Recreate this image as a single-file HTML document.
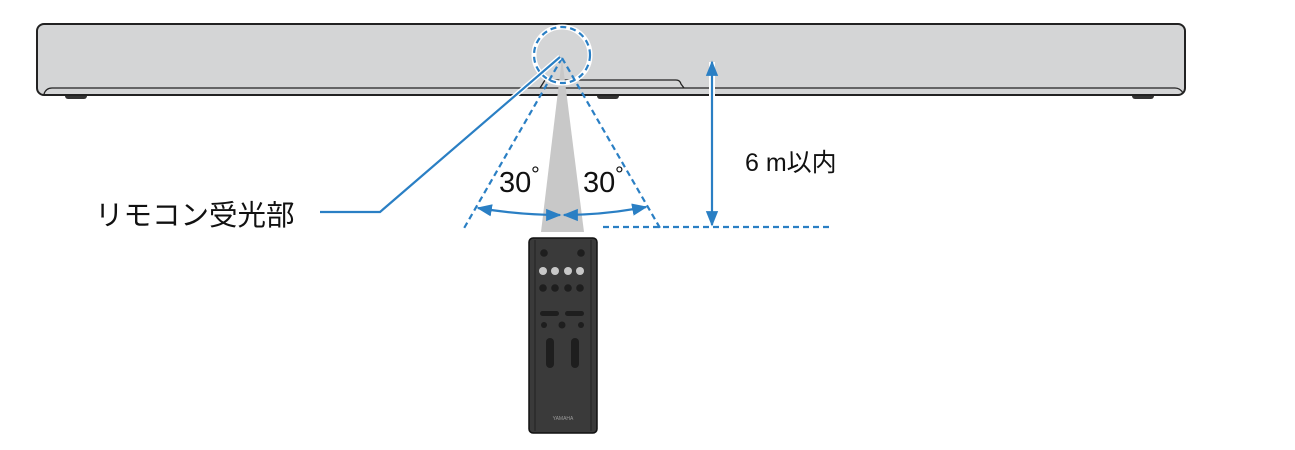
<!DOCTYPE html>
<html><head><meta charset="utf-8"><style>
body{margin:0;background:#fff;width:1295px;height:445px;overflow:hidden}
</style></head><body>
<svg width="1295" height="445" viewBox="0 0 1295 445" xmlns="http://www.w3.org/2000/svg">
<defs>
<marker id="ah" viewBox="0 0 10 10" refX="9" refY="5" markerWidth="7" markerHeight="7" orient="auto-start-reverse"><path d="M0,1 L10,5 L0,9 z" fill="#2a7fc4"/></marker>
</defs>
<!-- feet -->
<rect x="65" y="92" width="22" height="7" rx="3" fill="#333"/>
<rect x="597" y="92" width="22" height="7" rx="3" fill="#333"/>
<rect x="1132" y="92" width="22" height="7" rx="3" fill="#333"/>
<!-- bar -->
<rect x="37" y="24" width="1148" height="71" rx="7" fill="#d4d5d6" stroke="#222" stroke-width="2"/>
<path d="M44,94 Q46,88 52,88 L1175,88 Q1180,88 1183,93" fill="none" stroke="#222" stroke-width="1.3"/>
<path d="M540,88 L545,80 L676,80 Q680,80 681,84 L684,88" fill="none" stroke="#222" stroke-width="1.3"/>
<!-- cone -->
<polygon points="562,58 541,232 584,232" fill="#c8c8c8"/>
<!-- dashed lines -->
<circle cx="562" cy="55" r="28" fill="none" stroke="#fff" stroke-width="5"/>
<g stroke="#2a7fc4" stroke-width="2.2" fill="none" stroke-dasharray="6,4">
<circle cx="562" cy="55" r="28"/>
<line x1="562" y1="58" x2="463" y2="230"/>
<line x1="562" y1="58" x2="660" y2="228"/>
<line x1="603" y1="227" x2="832" y2="227"/>
</g>
<!-- leader -->
<polyline points="560,57 380,212 320,212" fill="none" stroke="#fff" stroke-width="5"/>
<polyline points="560,57 380,212 320,212" fill="none" stroke="#2a7fc4" stroke-width="2.2"/>
<!-- arcs -->
<path d="M478,208 Q520,215 560,215" fill="none" stroke="#2a7fc4" stroke-width="2.2" marker-start="url(#ah)" marker-end="url(#ah)"/>
<path d="M564,215 Q604,215 646,207" fill="none" stroke="#2a7fc4" stroke-width="2.2" marker-start="url(#ah)" marker-end="url(#ah)"/>
<!-- vertical arrow -->
<line x1="712" y1="62" x2="712" y2="225" stroke="#fff" stroke-width="6"/>
<line x1="712" y1="62" x2="712" y2="225" stroke="#2a7fc4" stroke-width="2.2" marker-start="url(#ah)" marker-end="url(#ah)"/>
<!-- text -->
<g font-family="Liberation Sans, Noto Sans CJK JP, sans-serif" fill="#111">
<text x="499" y="192" font-size="29">30</text><text x="531" y="182" font-size="22">°</text>
<text x="583" y="192" font-size="29">30</text><text x="615" y="182" font-size="22">°</text>
<text x="745" y="171" font-size="25">6 m以内</text>
<text x="95" y="225" font-size="28.5">リモコン受光部</text>
</g>
<!-- remote -->
<rect x="529" y="238" width="68" height="195" rx="4" fill="#3a3a3a" stroke="#111" stroke-width="1.5"/>
<line x1="535" y1="240" x2="535" y2="431" stroke="#222" stroke-width="1"/>
<line x1="591" y1="240" x2="591" y2="431" stroke="#222" stroke-width="1"/>
<g fill="#1e1e1e">
<circle cx="544" cy="253" r="3.8"/><circle cx="581" cy="253" r="3.8"/>
<circle cx="543" cy="288" r="3.8"/><circle cx="555" cy="288" r="3.8"/><circle cx="568" cy="288" r="3.8"/><circle cx="580" cy="288" r="3.8"/>
<rect x="540" y="311" width="19" height="5" rx="2.5"/><rect x="565" y="311" width="19" height="5" rx="2.5"/>
<circle cx="544" cy="325" r="3"/><circle cx="562" cy="325" r="3.5"/><circle cx="581" cy="325" r="3"/>
<rect x="546" y="338" width="8" height="30" rx="4"/><rect x="571" y="338" width="8" height="30" rx="4"/>
</g>
<g fill="#c8c8c8">
<circle cx="543" cy="271" r="4"/><circle cx="555" cy="271" r="4"/><circle cx="568" cy="271" r="4"/><circle cx="580" cy="271" r="4"/>
</g>
<text x="563" y="420" font-size="5" fill="#999" text-anchor="middle" font-family="Liberation Sans, sans-serif">YAMAHA</text>
</svg>
</body></html>
